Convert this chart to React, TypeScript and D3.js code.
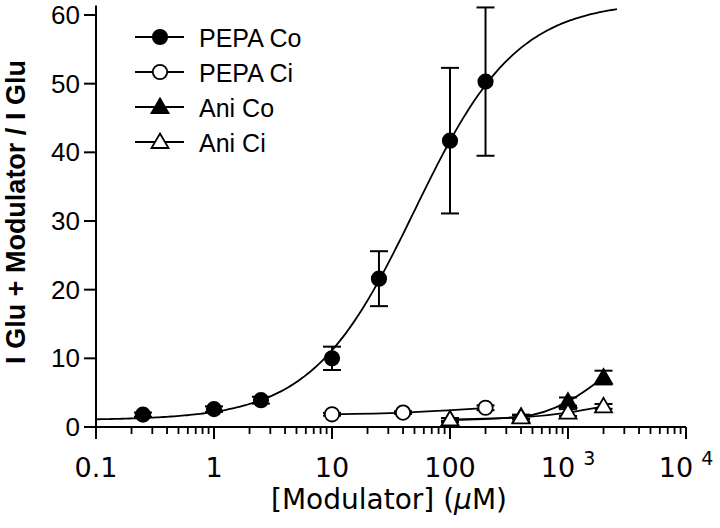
import React from "react";
import * as d3 from "d3";

// ---- data ----
const pepaCoX = [0.25, 1, 2.5, 10, 25, 100, 200];
const pepaCoY = [1.8, 2.6, 3.9, 10.0, 21.6, 41.7, 50.3];
const pepaCoErr = [0.3, 0.4, 0.5, 1.7, 4.0, 10.6, 10.8];

const pepaCiX = [10, 40, 200];
const pepaCiY = [1.85, 2.1, 2.8];
const pepaCiErr = [0.2, 0.2, 0.35];

const aniCoX = [100, 400, 1000, 2000];
const aniCoY = [1.0, 1.5, 3.7, 7.2];
const aniCoErr = [0.3, 0.3, 0.6, 1.0];

const aniCiX = [100, 400, 1000, 2000];
const aniCiY = [1.1, 1.4, 2.1, 3.0];
const aniCiErr = [0.2, 0.3, 0.5, 0.35];

// Hill fit of PEPA Co (bottom, top, EC50, slope) and curve range
const hillBottom = 1.0;
const hillTop = 62;
const hillEC50 = 50;
const hillSlope = 1.0;
const fitRange = [0.1, 2600];

const yTicks = [0, 10, 20, 30, 40, 50, 60];
const xMajor = [0.1, 1, 10, 100, 1000, 10000];
const xTickBase = ["0.1", "1", "10", "100", "10", "10"];
const xTickSup = ["", "", "", "", "3", "4"];
const legendLabels = ["PEPA Co", "PEPA Ci", "Ani Co", "Ani Ci"];

const yTitle = "I Glu + Modulator / I Glu";

export default function App() {
  const W = 720, H = 528;
  const x = d3.scaleLog().domain([0.1, 10000]).range([96, 686]);
  const y = d3.scaleLinear().domain([0, 60]).range([427, 15]);
  const yAxisTop = 61.4;

  const minor: number[] = [];
  for (let e = -1; e < 4; e++) {
    for (let m = 2; m <= 9; m++) minor.push(m * Math.pow(10, e));
  }

  const hill = (c: number) =>
    hillBottom + (hillTop - hillBottom) / (1 + Math.pow(hillEC50 / c, hillSlope));
  const fitX = d3.range(0, 201).map((i) => {
    const l0 = Math.log10(fitRange[0]), l1 = Math.log10(fitRange[1]);
    return Math.pow(10, l0 + ((l1 - l0) * i) / 200);
  });
  const fitLine = d3
    .line<number>()
    .x((c) => x(c))
    .y((c) => y(hill(c)))(fitX);

  const conn = d3
    .line<[number, number]>()
    .x((d) => x(d[0]))
    .y((d) => y(d[1]))
    .curve(d3.curveMonotoneX);

  const tri = (cx: number, cy: number) =>
    `M${cx},${cy - 8.5}L${cx + 8.5},${cy + 6}L${cx - 8.5},${cy + 6}Z`;

  type Series = { xs: number[]; ys: number[]; err: number[]; shape: "circle" | "tri"; fill: string; line: boolean };
  const series: Series[] = [
    { xs: pepaCoX, ys: pepaCoY, err: pepaCoErr, shape: "circle", fill: "#000", line: false },
    { xs: pepaCiX, ys: pepaCiY, err: pepaCiErr, shape: "circle", fill: "#fff", line: true },
    { xs: aniCoX, ys: aniCoY, err: aniCoErr, shape: "tri", fill: "#000", line: true },
    { xs: aniCiX, ys: aniCiY, err: aniCiErr, shape: "tri", fill: "#fff", line: true },
  ];

  const marker = (shape: string, fill: string, cx: number, cy: number, key: string) =>
    shape === "circle" ? (
      <circle key={key} cx={cx} cy={cy} r={7.2} fill={fill} stroke="#000" strokeWidth={1.8} />
    ) : (
      <path key={key} d={tri(cx, cy)} fill={fill} stroke="#000" strokeWidth={1.8} strokeLinejoin="miter" />
    );

  const ff = "'Liberation Sans', Arial, Helvetica, sans-serif";
  const ffx = "'DejaVu Sans', sans-serif";
  const legendY = [37, 72, 107, 142];

  return (
    <svg width={W} height={H} style={{ position: "absolute", left: 0, top: 0, background: "#fff" }}>
      <rect x={0} y={0} width={W} height={H} fill="#fff" />
      {/* axes */}
      <line x1={x(0.1)} x2={x(10000)} y1={y(0)} y2={y(0)} stroke="#000" strokeWidth={2} />
      <line x1={x(0.1)} x2={x(0.1)} y1={y(0)} y2={y(yAxisTop)} stroke="#000" strokeWidth={2} />
      {yTicks.map((t) => (
        <g key={"yt" + t}>
          <line x1={x(0.1) - 12} x2={x(0.1)} y1={y(t)} y2={y(t)} stroke="#000" strokeWidth={2} />
          <text x={x(0.1) - 16} y={y(t) + 9} textAnchor="end" fontFamily={ff} fontSize={26}>
            {t}
          </text>
        </g>
      ))}
      {xMajor.map((t, i) => (
        <g key={"xt" + t}>
          <line x1={x(t)} x2={x(t)} y1={y(0)} y2={y(0) + 12} stroke="#000" strokeWidth={2} />
          <text x={x(t)} y={477} textAnchor="middle" fontFamily={ffx} fontSize={27}>
            {xTickBase[i]}
            {xTickSup[i] && (
              <tspan dx={8} dy={-12} fontSize={19}>
                {xTickSup[i]}
              </tspan>
            )}
          </text>
        </g>
      ))}
      {minor.map((t) => (
        <line key={"mt" + t} x1={x(t)} x2={x(t)} y1={y(0)} y2={y(0) + 7} stroke="#000" strokeWidth={1.8} />
      ))}
      {/* axis titles */}
      <text x={389} y={509} textAnchor="middle" fontFamily={ffx} fontSize={28}>
        [Modulator] (<tspan fontStyle="italic">µ</tspan>M)
      </text>
      <text
        transform={`translate(25,212) rotate(-90)`}
        textAnchor="middle"
        fontFamily={ff}
        fontSize={27}
        fontWeight="bold"
      >
        {yTitle}
      </text>
      {/* fit curve */}
      <path d={fitLine || ""} fill="none" stroke="#000" strokeWidth={1.8} />
      {/* connecting lines */}
      {series.filter((s) => s.line).map((s, i) => (
        <path
          key={"cl" + i}
          d={conn(s.xs.map((v, j) => [v, s.ys[j]] as [number, number])) || ""}
          fill="none"
          stroke="#000"
          strokeWidth={1.8}
        />
      ))}
      {/* error bars */}
      {series.map((s, i) =>
        s.xs.map((v, j) => {
          const cx = x(v);
          const y1 = y(s.ys[j] + s.err[j]);
          const y2 = y(s.ys[j] - s.err[j]);
          return (
            <g key={"eb" + i + "-" + j} stroke="#000" strokeWidth={2}>
              <line x1={cx} x2={cx} y1={y1} y2={y2} />
              <line x1={cx - 9} x2={cx + 9} y1={y1} y2={y1} />
              <line x1={cx - 9} x2={cx + 9} y1={y2} y2={y2} />
            </g>
          );
        })
      )}
      {/* markers */}
      {series.map((s, i) => s.xs.map((v, j) => marker(s.shape, s.fill, x(v), y(s.ys[j]), "m" + i + "-" + j)))}
      {/* legend */}
      {series.map((s, i) => (
        <g key={"lg" + i}>
          <line x1={135} x2={184} y1={legendY[i]} y2={legendY[i]} stroke="#000" strokeWidth={1.8} />
          {marker(s.shape, s.fill, 160, legendY[i], "lm" + i)}
          <text x={199} y={legendY[i] + 9.5} fontFamily={ff} fontSize={25}>
            {legendLabels[i]}
          </text>
        </g>
      ))}
    </svg>
  );
}
